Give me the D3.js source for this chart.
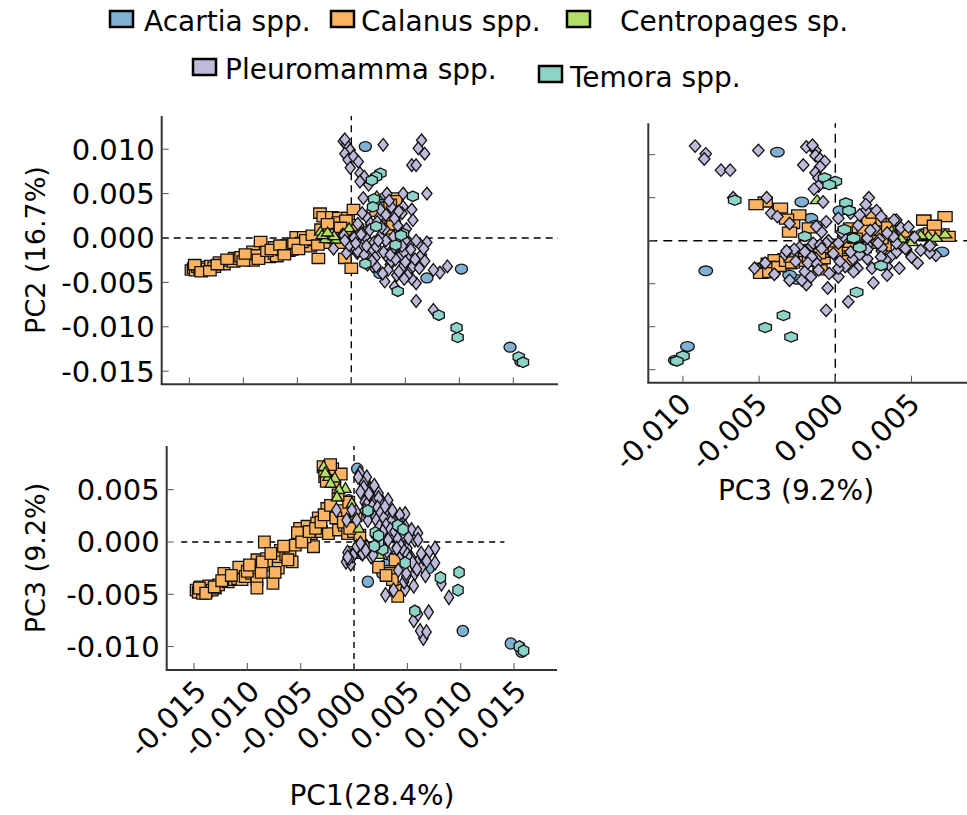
<!DOCTYPE html>
<html>
<head>
<meta charset="utf-8">
<script src="https://cdn.jsdelivr.net/npm/d3@7/dist/d3.min.js"></script>
<style>
  body { margin: 0; background: #fff; }
  svg text { font-family: "DejaVu Sans", sans-serif; fill: #000; }
</style>
</head>
<body>
<div id="container"></div>
<script>
// PCA loadings, in units of 1e-3: [PC1, PC2, PC3]
const acartia = [
  [1.3,10.3,-3.8],[10.2,-3.5,-8.5],[14.7,-12.3,-9.7],[15.7,-13.9,-10.5],[0.3,-1.3,7.0],
  [3.0,4.5,-2.2],[3.9,2.6,-1.6],[4.0,1.8,-1.3],[-0.5,0.8,4.0],[3.0,3.5,0.3],
  [7.0,-4.5,-2.5],[2.65,-4.0,-3.0],[1.0,0.8,5.7]
];
const calanus = [
  [-14.8,-3.6,-4.6],[-14.6,-3.4,-4.8],[-14.4,-3.7,-4.3],[-14.2,-3.3,-4.9],[-14.0,-3.5,-4.5],
  [-13.8,-3.2,-4.7],[-13.6,-3.6,-4.2],[-13.3,-3.4,-4.6],[-13.0,-3.1,-4.4],[-12.7,-3.3,-4.1],
  [-12.2,-2.7,-3.0],[-11.8,-3.0,-3.8],[-11.2,-2.6,-3.6],[-10.9,-2.7,-3.5],[-10.8,-2.2,-2.4],
  [-10.5,-2.4,-3.6],[-10.2,-2.1,-3.3],[-9.6,-2.3,-3.0],[-9.3,-2.1,-2.6],[-9.1,-1.5,-1.7],
  [-9.1,-2.5,-3.6],[-9.1,-2.6,-4.4],[-8.4,-0.4,0.0],[-8.2,-2.0,-1.6],[-8.0,-2.1,-2.2],
  [-7.6,-2.2,-3.95],[-7.1,-1.0,-1.6],[-7.1,-1.8,-2.5],[-6.9,-2.1,-0.8],[-6.4,-1.4,-1.2],
  [-6.0,-0.8,-0.9],[-5.8,-1.5,-1.9],[-5.5,-1.35,-0.3],[-5.1,0.15,1.3],[-4.8,-0.9,0.3],
  [-4.4,0.15,1.5],[-4.0,-0.6,0.8],[-3.8,-1.0,-0.45],[-3.35,-0.3,2.3],[-3.05,-2.3,1.0],
  [-2.9,2.8,7.2],[-2.75,0.9,6.25],[-2.55,-0.6,3.2],[-2.4,0.5,0.8],[-2.6,2.4,5.8],
  [-1.8,2.4,5.8],[-1.45,1.2,1.15],[-1.15,2.3,2.9],[-0.9,-0.6,1.6],[-0.6,-2.3,0.8],
  [-0.3,2.3,2.2],[-0.05,1.5,1.0],[0.0,-3.4,-1.0],[0.2,3.2,2.5],[0.55,1.0,0.65],
  [3.9,4.5,-4.6],[4.1,4.2,-5.2],[3.3,2.0,-2.8],[3.4,1.0,-3.0],[2.3,3.0,-2.4],
  [3.85,1.5,-1.7],[-2.0,0.8,7.0],[-1.2,1.8,6.5],[-2.2,0.5,7.4],[-3.5,-0.1,1.8],
  [-4.6,-0.5,0.5],[-1.0,0.2,3.0],[-0.5,2.0,3.8],[-1.5,1.0,4.5],[3.6,3.8,-3.6],
  [3.0,2.5,-3.2],[-14.5,-3.0,-4.4],[-13.9,-3.8,-4.9],[-13.1,-3.7,-4.3],[-12.4,-3.0,-3.7],
  [-11.5,-2.4,-3.2],[-10.0,-2.6,-2.8],[-9.8,-1.8,-2.2],[-8.7,-1.9,-2.9],[-8.6,-2.4,-1.9],
  [-7.8,-1.5,-1.1],[-7.4,-1.3,-2.9],[-6.6,-0.8,-0.4],[-6.2,-1.9,-1.7],[-5.3,-0.6,0.9],
  [-4.9,-1.3,0.0],[-4.2,-0.2,1.0],[-3.6,0.3,1.3],[-3.1,-0.8,1.9],[-2.8,1.0,2.6],
  [-2.2,1.6,3.5],[-1.7,0.0,2.3],[-1.0,1.2,1.9],[-0.4,0.3,1.3]
];
const centropages = [
  [-2.85,0.7,7.2],[-2.4,-0.15,6.25],[-1.8,0.5,6.1],[-0.8,0.5,5.1],[-1.4,-0.2,5.0],
  [-1.6,0.2,4.3],[-0.2,1.1,3.7],[0.45,0.2,1.3],[2.35,4.7,-1.2],[1.2,6.5,-0.35],
  [-2.7,0.3,6.6],[-2.2,0.6,5.6]
];
const pleuromamma = [
  [-0.75,10.9,-1.9],[-0.45,10.5,-1.3],[-0.6,11.1,-1.5],[-0.1,9.9,-1.3],[-0.6,9.5,-1.0],
  [-0.3,8.8,-2.1],[0.2,9.2,-0.7],[0.65,8.6,-1.0],[-0.1,7.9,-1.3],[0.8,7.3,-1.1],
  [1.2,6.9,-0.5],[0.8,6.35,-1.1],[1.6,6.0,-1.4],[6.5,11.0,-9.2],[6.2,10.1,-8.5],
  [6.8,9.5,-8.6],[5.6,8.2,-7.5],[6.0,8.2,-6.9],[2.95,10.5,-5.05],[7.0,5.0,-6.7],
  [4.8,5.0,-4.5],[3.3,5.0,2.2],[3.7,3.5,2.0],[4.8,3.5,2.7],[5.6,3.2,-4.2],
  [5.7,2.0,-3.0],[4.7,2.8,-3.8],[1.4,2.4,4.0],[1.8,1.5,4.3],[0.55,-1.7,6.6],
  [1.2,-1.4,6.2],[0.9,-1.1,5.6],[1.5,-1.9,5.0],[-0.45,-1.7,-1.55],[-1.65,-1.2,3.05],
  [0.2,0.15,2.9],[1.3,0.15,2.1],[2.65,0.15,3.85],[3.9,0.15,0.5],[2.0,-1.35,4.0],
  [2.0,-3.2,2.4],[3.1,-4.9,2.5],[3.3,-2.1,2.1],[3.6,-3.0,0.65],[4.2,-4.2,0.2],
  [4.5,-2.1,-1.25],[4.8,-3.2,1.45],[5.4,-0.6,-1.55],[5.4,-2.1,1.15],[5.7,-3.2,0.2],
  [6.0,-5.1,-1.9],[5.6,-4.6,-2.2],[6.0,-7.1,0.85],[7.6,-8.1,-0.6],[8.2,-3.9,-4.0],
  [8.9,-3.2,-5.3],[7.6,-3.6,-2.0],[6.4,-0.8,-2.35],[6.5,-1.9,-1.55],[4.15,-1.0,-2.7],
  [3.7,-2.6,-4.6],[4.9,-1.6,-3.3],[3.1,1.0,-0.9],[1.8,1.65,-1.25],[2.1,-0.5,2.1],
  [2.6,2.4,3.85],[3.2,-0.3,4.0],[2.3,-1.0,4.65],[0.25,0.0,-0.45],[0.25,-1.0,2.1],
  [-0.7,0.3,2.1],[-0.2,-0.8,3.05],[4.5,0.5,0.5],[1.1,4.5,-0.8],[3.5,4.2,2.0],
  [2.4,1.8,1.5],[4.3,1.4,2.6],[1.0,0.5,3.8],[-0.6,-0.3,-1.45],[0.6,-1.5,-0.13],
  [1.5,-3.0,3.4],[2.3,-3.2,4.2],[1.2,-1.9,3.6],[6.0,-0.3,0.2],[5.0,-0.3,-0.6],
  [7.0,-0.5,-1.0],[6.8,-2.6,-1.8],[4.0,-5.5,-0.5],[0.4,-0.6,6.2],[0.9,0.4,5.2],
  [1.4,-0.9,4.6],[1.7,0.9,3.4],[2.2,-2.2,3.3],[2.5,-0.3,2.8],[2.8,1.2,2.3],
  [3.0,-1.6,1.6],[3.4,-3.6,1.2],[3.8,-1.3,1.0],[4.1,-2.4,0.3],[4.4,-3.8,-0.4],
  [4.7,-0.9,-0.9],[5.0,-2.7,-1.2],[5.2,-4.2,-1.6],[5.5,-1.3,-2.0],[5.9,-2.4,-2.6],
  [6.3,-3.4,-1.1],[2.7,3.2,1.0],[3.2,2.6,0.2],[4.0,2.2,-0.6],[4.4,3.0,1.6],
  [5.1,1.0,0.4],[1.0,2.8,3.0],[0.6,1.6,4.8],[1.9,-2.6,5.4],[2.9,-4.0,3.4],
  [3.6,-1.9,3.0],[4.9,-4.6,-3.0],[6.7,-1.2,-3.2]
];
const temora = [
  [15.5,-13.4,-10.0],[15.9,-14.0,-10.4],[9.85,-11.2,-2.9],[9.75,-10.1,-4.6],[8.1,-8.7,-3.4],
  [4.3,-6.0,1.4],[1.3,-2.9,3.0],[2.7,7.3,-0.7],[2.3,6.9,0.0],[1.9,6.5,-0.4],
  [5.7,4.7,-6.6],[2.1,4.4,0.7],[2.0,3.5,0.9],[2.3,1.3,0.6],[4.8,0.5,-2.0],
  [4.1,-0.8,1.6],[4.6,0.3,1.2]
];
const UNIT = 1e-3;

const speciesNames = ["Acartia spp.", "Calanus spp.", "Centropages sp.", "Pleuromamma spp.", "Temora spp."];
const speciesData = [acartia, calanus, centropages, pleuromamma, temora];
const speciesColors = ["#80b1d3", "#fdb462", "#b3de69", "#bebada", "#8dd3c7"];
const speciesShapes = ["circle", "square", "triangle", "diamond", "hexagon"];

const pc1Ticks = [-0.015, -0.010, -0.005, 0.000, 0.005, 0.010, 0.015];
const pc1TickLabels = ["-0.015", "-0.010", "-0.005", "0.000", "0.005", "0.010", "0.015"];
const pc2Ticks = [0.010, 0.005, 0.000, -0.005, -0.010, -0.015];
const pc2TickLabels = ["0.010", "0.005", "0.000", "-0.005", "-0.010", "-0.015"];
const pc3Ticks = [-0.010, -0.005, 0.000, 0.005];
const pc3TickLabels = ["-0.010", "-0.005", "0.000", "0.005"];
const pc3TicksV = [0.005, 0.000, -0.005, -0.010];
const pc3TickLabelsV = ["0.005", "0.000", "-0.005", "-0.010"];

const W = 967, H = 815;
const svg = d3.select("#container").append("svg")
    .attr("width", W).attr("height", H);

// marker outlines (unit size, bottom-left panel)
function shapePath(kind) {
    if (kind === "circle") return d3.symbol(d3.symbolCircle, Math.PI * 5.6 * 5.6)();
    if (kind === "square") return "M-5.8,-5.8H5.8V5.8H-5.8Z";
    if (kind === "triangle") return "M0,-6.2L5.6,3.8L-5.6,3.8Z";
    if (kind === "diamond") return "M0,-7.2L4.7,0L0,7.2L-4.7,0Z";
    const pts = d3.range(6).map(k => {
        const a = (-90 + k * 60) * Math.PI / 180;
        return [5.9 * Math.cos(a), 5.9 * Math.sin(a)];
    });
    return "M" + pts.map(p => p.join(",")).join("L") + "Z";
}

const panels = [
    { box: { x0: 161.7, x1: 558, y0: 116, y1: 384.3 }, xlim: [-0.01756, 0.01914], ylim: [-0.01648, 0.01374],
      xi: 0, yi: 1, xTicks: pc1Ticks, xLabels: null, yTicks: pc2Ticks, yLabels: pc2TickLabels,
      stretch: [1.08, 0.88], hspan: null, dash: "7,5", labelShift: 0 },
    { box: { x0: 648.3, x1: 967, y0: 123.3, y1: 382.7 }, xlim: [-0.01227, 0.00864], ylim: [-0.01651, 0.01365],
      xi: 2, yi: 1, xTicks: pc3Ticks, xLabels: pc3TickLabels, yTicks: pc2Ticks, yLabels: null,
      stretch: [1.22, 0.86], hspan: null, dash: "9,6", labelShift: -5 },
    { box: { x0: 166.7, x1: 557, y0: 446, y1: 670 }, xlim: [-0.01756, 0.01903], ylim: [-0.01224, 0.00918],
      xi: 0, yi: 2, xTicks: pc1Ticks, xLabels: pc1TickLabels, yTicks: pc3TicksV, yLabels: pc3TickLabelsV,
      stretch: [1, 1], hspan: [-0.0162, 0.0141], dash: "6,5", labelShift: -1 }
];

panels.forEach(p => {
    const b = p.box;
    const x = d3.scaleLinear().domain(p.xlim).range([b.x0, b.x1]);
    const y = d3.scaleLinear().domain(p.ylim).range([b.y1, b.y0]);
    const g = svg.append("g");

    // zero reference lines
    const hs = p.hspan || p.xlim;
    g.append("line")
        .attr("x1", x(hs[0])).attr("x2", x(hs[1]))
        .attr("y1", y(0)).attr("y2", y(0))
        .attr("stroke", "#000").attr("stroke-width", 1.4).attr("stroke-dasharray", p.dash);
    g.append("line")
        .attr("x1", x(0)).attr("x2", x(0))
        .attr("y1", y(p.ylim[0])).attr("y2", y(p.ylim[1]))
        .attr("stroke", "#000").attr("stroke-width", 1.4).attr("stroke-dasharray", p.dash);

    // points, species in plotting order
    speciesData.forEach((rows, si) => {
        const d = rows.map(r => [r[p.xi] * UNIT, r[p.yi] * UNIT]);
        g.append("g").selectAll("path")
            .data(d)
            .enter().append("path")
            .attr("d", shapePath(speciesShapes[si]))
            .attr("transform", v => `translate(${x(v[0])},${y(v[1])}) scale(${p.stretch[0]},${p.stretch[1]})`)
            .attr("fill", speciesColors[si])
            .attr("stroke", "#111")
            .attr("stroke-width", 1.3)
            .attr("vector-effect", "non-scaling-stroke");
    });

    // spines
    g.append("line").attr("x1", b.x0).attr("x2", b.x0).attr("y1", b.y0).attr("y2", b.y1)
        .attr("stroke", "#333").attr("stroke-width", 2);
    g.append("line").attr("x1", b.x0 - 1).attr("x2", b.x1).attr("y1", b.y1).attr("y2", b.y1)
        .attr("stroke", "#333").attr("stroke-width", 2);

    // inward ticks
    g.selectAll(".xt").data(p.xTicks).enter().append("line")
        .attr("x1", v => x(v)).attr("x2", v => x(v))
        .attr("y1", b.y1).attr("y2", b.y1 - 7)
        .attr("stroke", "#555").attr("stroke-width", 1);
    g.selectAll(".yt").data(p.yTicks).enter().append("line")
        .attr("x1", b.x0).attr("x2", b.x0 + 7)
        .attr("y1", v => y(v)).attr("y2", v => y(v))
        .attr("stroke", "#555").attr("stroke-width", 1);

    if (p.yLabels) {
        g.selectAll(".yl").data(p.yTicks).enter().append("text")
            .attr("x", b.x0 - 7).attr("y", v => y(v))
            .attr("dy", "0.36em")
            .attr("text-anchor", "end")
            .attr("font-size", 29)
            .text((v, i) => p.yLabels[i]);
    }
    if (p.xLabels) {
        g.selectAll(".xl").data(p.xTicks).enter().append("text")
            .attr("transform", v => `translate(${x(v) + p.labelShift},${b.y1 + 8}) rotate(-45)`)
            .attr("dy", "0.73em")
            .attr("text-anchor", "end")
            .attr("font-size", 29)
            .text((v, i) => p.xLabels[i]);
    }
});

// axis titles
svg.append("text").attr("transform", "translate(45,250) rotate(-90)")
    .attr("text-anchor", "middle").attr("font-size", 27).text("PC2 (16.7%)");
svg.append("text").attr("transform", "translate(45,558) rotate(-90)")
    .attr("text-anchor", "middle").attr("font-size", 27).text("PC3 (9.2%)");
svg.append("text").attr("x", 372).attr("y", 805)
    .attr("text-anchor", "middle").attr("font-size", 28).text("PC1(28.4%)");
svg.append("text").attr("x", 796).attr("y", 500)
    .attr("text-anchor", "middle").attr("font-size", 28).text("PC3 (9.2%)");

// legend
const legendPos = [
    { px: 110, py: 11, tx: 144, ty: 31 },
    { px: 331, py: 11, tx: 361, ty: 31 },
    { px: 567, py: 11, tx: 620, ty: 31 },
    { px: 193, py: 59, tx: 225, ty: 79 },
    { px: 539, py: 66, tx: 570, ty: 87 }
];
const legend = svg.append("g");
speciesNames.forEach((name, i) => {
    const lp = legendPos[i];
    legend.append("rect")
        .attr("x", lp.px).attr("y", lp.py).attr("width", 23).attr("height", 16)
        .attr("fill", speciesColors[i]).attr("stroke", "#000").attr("stroke-width", 2.5);
    legend.append("text")
        .attr("x", lp.tx).attr("y", lp.ty)
        .attr("font-size", 28)
        .text(name);
});
</script>
</body>
</html>
